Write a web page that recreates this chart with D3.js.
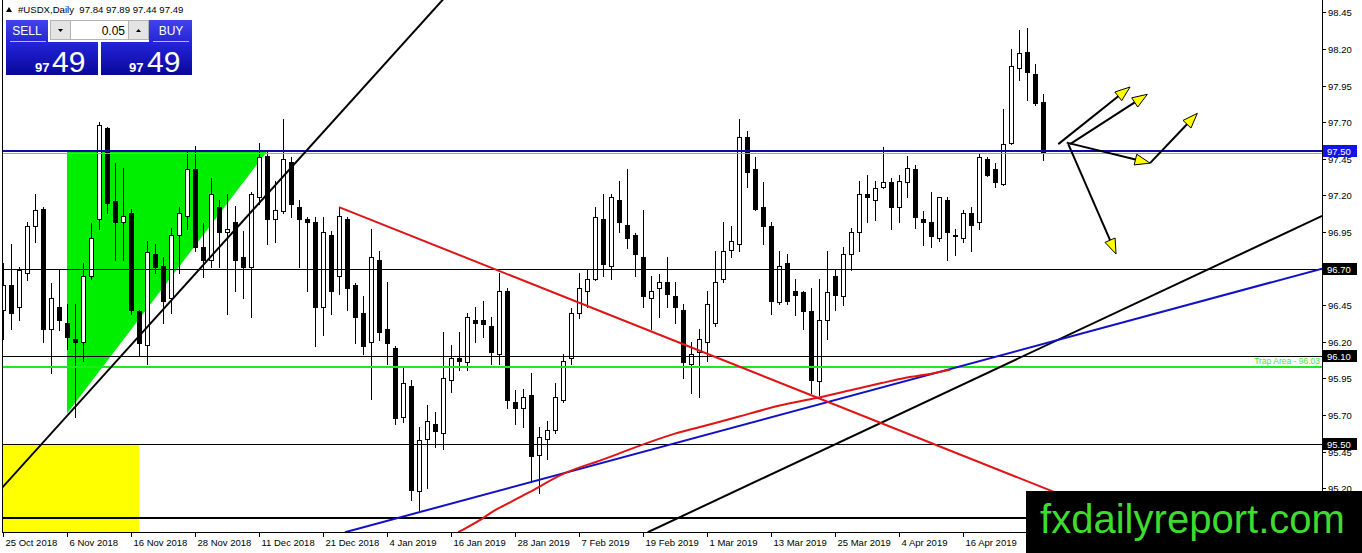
<!DOCTYPE html>
<html>
<head>
<meta charset="utf-8">
<script src="https://cdnjs.cloudflare.com/ajax/libs/d3/7.8.5/d3.min.js"></script>
<style>
body{margin:0;background:#fff;}
svg{display:block;}
text{font-family:"Liberation Sans",Arial,sans-serif;}
</style>
</head>
<body>
<svg id="chart"></svg>
<script>
/* Chart data */
const symbol = '#USDX,Daily'
const lastBar = [97.84, 97.89, 97.44, 97.49]
const lotSize = '0.05'

const openPrices = [
  96.42,96.59,96.44,96.67,96.99,97.11,96.29,96.44,96.33,96.22,
  96.20,96.65,97.04,97.66,97.16,97.02,97.08,96.41,96.18,96.80,
  96.72,96.50,96.93,97.06,97.38,96.85,96.76,97.12,96.95,97.02,
  96.78,96.71,97.19,97.47,97.04,97.09,97.43,97.12,97.04,97.02,
  96.44,96.93,96.65,97.04,96.59,96.40,96.20,96.76,96.29,96.16,
  95.69,95.90,95.18,95.54,95.64,95.58,95.94,96.09,96.06,96.35,
  96.35,96.31,96.12,96.55,95.79,95.75,95.84,95.43,95.54,95.60,
  95.80,96.09,96.40,96.55,96.63,97.04,96.72,97.17,97.00,96.93,
  96.78,96.50,96.57,96.61,96.51,96.42,96.05,96.13,96.20,96.33,
  96.63,96.83,96.87,97.60,97.38,97.12,96.99,96.47,96.74,96.55,
  96.54,96.41,95.93,96.35,96.65,96.51,96.80,96.95,97.21,97.17,
  97.26,97.29,97.12,97.29,97.38,97.04,97.02,96.91,97.17,96.93,
  96.91,97.08,97.02,97.45,97.38,97.28,97.56,98.07,98.18,98.03,
  97.84]
const highPrices = [
  96.74,96.87,96.71,97.02,97.21,97.12,96.60,96.69,96.46,96.46,
  96.74,97.01,97.70,97.67,97.42,97.39,97.11,96.42,96.89,96.87,
  96.78,96.98,97.12,97.51,97.54,97.01,97.32,97.17,97.21,97.13,
  96.96,97.22,97.56,97.51,97.30,97.72,97.46,97.17,97.05,97.05,
  97.05,96.96,97.12,97.05,96.60,96.51,96.97,96.82,96.61,96.17,
  96.03,95.94,95.62,95.77,95.72,96.27,96.18,96.27,96.40,96.44,
  96.48,96.37,96.67,96.57,95.87,95.88,95.99,95.62,95.66,95.92,
  96.12,96.43,96.67,96.70,97.12,97.21,97.21,97.30,97.38,96.94,
  97.10,96.65,96.66,96.78,96.61,96.46,96.20,96.29,96.55,96.82,
  97.02,96.99,97.72,97.64,97.46,97.29,97.02,96.82,96.80,96.63,
  96.55,96.57,96.63,96.82,96.70,96.85,96.98,97.30,97.34,97.30,
  97.53,97.32,97.34,97.47,97.41,97.09,97.22,97.19,97.19,96.97,
  97.10,97.12,97.49,97.46,97.42,97.79,98.20,98.33,98.34,98.10,
  97.89]
const lowPrices = [
  96.22,96.29,96.35,96.62,96.88,96.20,95.99,96.28,96.15,95.69,
  96.07,96.63,96.97,97.08,96.76,96.76,96.39,96.11,96.05,96.67,
  96.33,96.40,96.67,96.97,96.82,96.64,96.71,96.71,96.39,96.55,
  96.50,96.37,97.14,96.87,96.88,97.08,97.05,96.71,96.55,96.17,
  96.25,96.39,96.53,96.42,96.19,96.12,95.81,96.21,96.05,95.64,
  95.65,95.12,95.05,95.20,95.48,95.47,95.86,96.01,96.01,96.20,
  96.23,96.05,96.05,95.75,95.64,95.62,95.24,95.17,95.40,95.58,
  95.79,96.05,96.36,96.44,96.62,96.65,96.63,96.95,96.84,96.65,
  96.44,96.29,96.37,96.44,96.33,95.95,95.85,95.82,96.07,96.31,
  96.61,96.78,96.82,97.26,97.10,96.87,96.39,96.46,96.46,96.38,
  96.29,95.85,95.84,96.22,96.42,96.45,96.69,96.82,97.02,97.03,
  97.25,96.97,97.02,97.19,96.98,96.86,96.85,96.89,96.76,96.79,
  96.88,96.82,96.97,97.33,97.26,97.27,97.55,97.99,97.85,97.82,
  97.44]
const closePrices = [
  96.59,96.40,96.69,96.99,97.10,96.29,96.50,96.35,96.23,96.20,
  96.65,96.91,97.68,97.15,97.02,97.06,96.42,96.19,96.81,96.71,
  96.48,96.93,97.08,97.38,96.85,96.76,97.21,96.95,96.97,96.76,
  96.71,97.21,97.46,97.04,97.10,97.45,97.14,97.04,97.02,96.44,
  96.95,96.55,97.06,96.57,96.37,96.17,96.78,96.27,96.19,95.68,
  95.92,95.19,95.53,95.66,95.59,95.95,96.09,96.07,96.37,96.33,
  96.32,96.13,96.55,95.80,95.75,95.82,95.42,95.55,95.60,95.82,
  96.07,96.40,96.57,96.63,97.05,96.73,97.19,97.02,96.91,96.80,
  96.51,96.55,96.61,96.53,96.44,96.06,96.12,96.22,96.46,96.61,
  96.82,96.89,97.60,97.36,97.11,96.99,96.48,96.72,96.48,96.52,
  96.41,95.94,96.35,96.54,96.52,96.80,96.95,97.21,97.19,97.25,
  97.29,97.12,97.30,97.39,97.05,97.02,96.92,97.19,96.95,96.93,
  97.08,97.00,97.46,97.34,97.29,97.55,98.08,98.17,98.04,97.83,
  97.49]

const dateLabels = ['25 Oct 2018','6 Nov 2018','16 Nov 2018','28 Nov 2018','11 Dec 2018','21 Dec 2018',
  '4 Jan 2019','16 Jan 2019','28 Jan 2019','7 Feb 2019','19 Feb 2019','1 Mar 2019','13 Mar 2019',
  '25 Mar 2019','4 Apr 2019','16 Apr 2019']
const dateIndex = [0,8,16,24,32,40,48,56,64,72,80,88,96,104,112,120]
const priceTicks = [95.20,95.45,95.70,95.95,96.20,96.45,96.70,96.95,97.20,97.45,97.70,97.95,98.20,98.45]

/* Horizontal levels */
const resistLevel = 97.50
const blackLevels = [96.70, 96.10, 95.50]
const baseLevel = 95.00
const trapLevel = 96.03
const trapText = 'Trap Area - 96.03'

/* Trend lines: [bar index, price] */
const blackTrend1 = [[-1, 95.15], [60, 98.84]]
const blackTrend2 = [[80.6, 94.90], [164.9, 97.06]]
const blueTrend = [[42.75, 94.90], [164.9, 96.70]]
const redTrend = [[42, 97.12], [150, 94.77]]
const curveIndex = [56.9, 60.25, 61.25, 65.9, 70, 74.25, 77.1, 80.5, 84.25, 85.9, 92.1, 97.1, 101.25, 105.9, 110, 113, 115, 118.4]
const curvePrice = [94.90, 95.00, 95.05, 95.17, 95.31, 95.38, 95.44, 95.51, 95.58, 95.60, 95.69, 95.77, 95.81, 95.87, 95.92, 95.96, 95.97, 96.01]
const greenTriangle = [[8, 97.50], [33, 97.50], [8, 95.71]]
const yellowBox = [[-1, 95.50], [17, 94.80]]

/* Arrows */
const arrowFrom = [[131.91, 97.55], [133.38, 97.55], [132.96, 97.56], [143.38, 97.42], [133.16, 97.55]]
const arrowTo = [[140.88, 97.94], [143.04, 97.89], [143.38, 97.42], [149.29, 97.76], [139.13, 96.80]]

/* Layout */
const width = 1362, height = 553
const plot = {left: 2, right: 1322, top: 0, bottom: 532}

const xScale = d3.scaleLinear().domain([0, 130]).range([3, 1043])
const yScale = d3.scaleLinear().domain([95.20, 98.45]).range([488.3, 12.3])

const svg = d3.select('#chart').attr('width', width).attr('height', height)
const defs = svg.append('defs')

defs.append('clipPath').attr('id', 'plotClip').append('rect')
    .attr('x', plot.left + 0.5).attr('y', plot.top)
    .attr('width', plot.right - plot.left - 0.5).attr('height', plot.bottom - plot.top)

const addGrad = (id, c1, c2) => {
  const g = defs.append('linearGradient').attr('id', id).attr('x1', 0).attr('y1', 0).attr('x2', 0).attr('y2', 1)
  g.append('stop').attr('offset', '0%').attr('stop-color', c1)
  g.append('stop').attr('offset', '100%').attr('stop-color', c2)
}
addGrad('btnGrad', '#4343ec', '#2626d2')
addGrad('priceGrad', '#2424dc', '#08089a')

const lineGen = d3.line().x(d => xScale(d[0])).y(d => yScale(d[1]))
const crisp = v => Math.round(v) + 0.5

const plotG = svg.append('g').attr('clip-path', 'url(#plotClip)')

/* Background objects */
const drawBackground = () => {
  plotG.append('rect')
      .attr('x', xScale(yellowBox[0][0])).attr('y', yScale(yellowBox[0][1]))
      .attr('width', xScale(yellowBox[1][0]) - xScale(yellowBox[0][0]))
      .attr('height', yScale(yellowBox[1][1]) - yScale(yellowBox[0][1]))
      .attr('fill', '#ffff00')

  plotG.append('path')
      .attr('d', lineGen(greenTriangle) + 'Z')
      .attr('fill', '#00ee00')
}

/* Candles */
const drawCandles = () => {
  const candles = openPrices.map((o, i) => ({i: i, o: o, h: highPrices[i], l: lowPrices[i], c: closePrices[i]}))

  plotG.selectAll('line.wick')
      .data(candles)
      .enter()
      .append('line')
      .attr('class', 'wick')
      .attr('x1', d => crisp(xScale(d.i)))
      .attr('x2', d => crisp(xScale(d.i)))
      .attr('y1', d => Math.round(yScale(d.h)))
      .attr('y2', d => Math.round(yScale(d.l)) + 1)
      .attr('stroke', '#000')
      .attr('stroke-width', 1)

  plotG.selectAll('rect.body')
      .data(candles)
      .enter()
      .append('rect')
      .attr('class', 'body')
      .attr('x', d => Math.round(xScale(d.i)) - 1.5)
      .attr('width', 4)
      .attr('y', d => crisp(yScale(Math.max(d.o, d.c))))
      .attr('height', d => Math.max(Math.round(yScale(Math.min(d.o, d.c))) - Math.round(yScale(Math.max(d.o, d.c))), 1))
      .attr('fill', d => d.c >= d.o ? '#fff' : '#000')
      .attr('stroke', '#000')
      .attr('stroke-width', 1)
}

/* Horizontal levels and trend lines */
const drawLines = () => {
  const hLine = (v, color, w, dy) => {
    const y = w % 2 ? crisp(yScale(v)) : Math.round(yScale(v))
    plotG.append('line')
        .attr('x1', plot.left).attr('x2', plot.right)
        .attr('y1', y + (dy || 0)).attr('y2', y + (dy || 0))
        .attr('stroke', color).attr('stroke-width', w)
  }
  blackLevels.forEach(v => hLine(v, '#000', 1))
  hLine(baseLevel, '#000', 2)
  hLine(trapLevel, '#22e622', 2)
  hLine(resistLevel, '#0c0ca8', 2)
  hLine(resistLevel, '#9a9ae6', 1, 2)

  const trend = (pts, color) => {
    plotG.append('path')
        .attr('d', lineGen(pts))
        .attr('fill', 'none')
        .attr('stroke', color)
        .attr('stroke-width', 2)
  }
  trend(blackTrend1, '#000')
  trend(blackTrend2, '#000')
  trend(blueTrend, '#1010c4')
  trend(redTrend, '#e01414')

  const curvePts = curveIndex.map((v, k) => [v, curvePrice[k]])
  plotG.append('path')
      .attr('d', d3.line().x(d => xScale(d[0])).y(d => yScale(d[1])).curve(d3.curveBasis)(curvePts))
      .attr('fill', 'none')
      .attr('stroke', '#e01414')
      .attr('stroke-width', 2)

  plotG.append('text')
      .attr('x', plot.right - 2)
      .attr('y', Math.round(yScale(trapLevel)) - 3)
      .attr('text-anchor', 'end')
      .style('font-size', '8.5px')
      .attr('fill', '#3ee63e')
      .text(trapText)
}

/* Arrows */
const drawArrows = () => {
  arrowFrom.forEach((p, k) => {
    const x1 = xScale(p[0]), y1 = yScale(p[1])
    const x2 = xScale(arrowTo[k][0]), y2 = yScale(arrowTo[k][1])
    const len = Math.hypot(x2 - x1, y2 - y1)
    const ux = (x2 - x1) / len, uy = (y2 - y1) / len
    const headLen = 15, headW = 5.5
    const bx = x2 - ux * headLen, by = y2 - uy * headLen

    plotG.append('line')
        .attr('x1', x1).attr('y1', y1).attr('x2', bx).attr('y2', by)
        .attr('stroke', '#000').attr('stroke-width', 2)

    plotG.append('polygon')
        .attr('points', [[x2, y2], [bx - uy * headW, by + ux * headW], [bx + uy * headW, by - ux * headW]].map(q => q.join(',')).join(' '))
        .attr('fill', '#ffff00')
        .attr('stroke', '#000')
        .attr('stroke-width', 1)
  })
}

/* Axes */
const drawAxes = () => {
  svg.append('line')
      .attr('x1', plot.left + 0.5).attr('x2', plot.left + 0.5)
      .attr('y1', 0).attr('y2', plot.bottom)
      .attr('stroke', '#000')
  svg.append('line')
      .attr('x1', plot.left).attr('x2', plot.right + 1)
      .attr('y1', plot.bottom + 0.5).attr('y2', plot.bottom + 0.5)
      .attr('stroke', '#000')
  svg.append('line')
      .attr('x1', plot.right + 0.5).attr('x2', plot.right + 0.5)
      .attr('y1', 0).attr('y2', height)
      .attr('stroke', '#000')

  /* price scale */
  const yAxis = svg.append('g')
  priceTicks.forEach(v => {
    const y = crisp(yScale(v))
    yAxis.append('line')
        .attr('x1', plot.right).attr('x2', plot.right + 4)
        .attr('y1', y).attr('y2', y)
        .attr('stroke', '#000')
    yAxis.append('text')
        .attr('x', plot.right + 6).attr('y', y + 3.5)
        .style('font-size', '9.5px')
        .attr('fill', '#000')
        .text(v.toFixed(2))
  })

  const levelLabel = (v, bg) => {
    const y = Math.round(yScale(v))
    yAxis.append('rect')
        .attr('x', plot.right + 1).attr('y', y - 6)
        .attr('width', 34).attr('height', 12)
        .attr('fill', bg)
    yAxis.append('text')
        .attr('x', plot.right + 5).attr('y', y + 4)
        .style('font-size', '9.5px')
        .attr('fill', '#fff')
        .text(v.toFixed(2))
  }
  levelLabel(resistLevel, '#1414e6')
  blackLevels.forEach(v => levelLabel(v, '#000'))

  /* time scale */
  const xAxis = svg.append('g')
  dateIndex.forEach((idx, k) => {
    const x = crisp(xScale(idx))
    xAxis.append('line')
        .attr('x1', x).attr('x2', x)
        .attr('y1', plot.bottom).attr('y2', plot.bottom + 5)
        .attr('stroke', '#000')
    xAxis.append('text')
        .attr('x', x + 2).attr('y', plot.bottom + 14)
        .style('font-size', '9.5px')
        .attr('fill', '#000')
        .text(dateLabels[k])
  })
}

/* Title and trade panel */
const drawHeader = () => {
  svg.append('polygon').attr('points', '6,12 12,12 9,7').attr('fill', '#000')
  svg.append('text')
      .attr('x', 18).attr('y', 13)
      .style('font-size', '9.6px')
      .style('white-space', 'pre')
      .attr('fill', '#000')
      .text(symbol + '  ' + lastBar.map(v => v.toFixed(2)).join(' '))

  const panel = svg.append('g')
  panel.append('rect').attr('x', 6).attr('y', 20).attr('width', 42).attr('height', 22).attr('fill', 'url(#btnGrad)')
  panel.append('rect').attr('x', 149).attr('y', 20).attr('width', 43).attr('height', 22).attr('fill', 'url(#btnGrad)')
  panel.append('rect').attr('x', 6).attr('y', 42).attr('width', 92).attr('height', 33).attr('fill', 'url(#priceGrad)')
  panel.append('rect').attr('x', 101).attr('y', 42).attr('width', 91).attr('height', 33).attr('fill', 'url(#priceGrad)')
  panel.append('line').attr('x1', 10).attr('x2', 46).attr('y1', 41.5).attr('y2', 41.5).attr('stroke', '#b8b8f0')
  panel.append('line').attr('x1', 153).attr('x2', 189).attr('y1', 41.5).attr('y2', 41.5).attr('stroke', '#b8b8f0')

  panel.append('text').attr('x', 27).attr('y', 35).attr('text-anchor', 'middle')
      .style('font-size', '12px').attr('fill', '#fff').text('SELL')
  panel.append('text').attr('x', 171).attr('y', 35).attr('text-anchor', 'middle')
      .style('font-size', '12px').attr('fill', '#fff').text('BUY')

  /* lot spinner */
  panel.append('rect').attr('x', 50.5).attr('y', 20.5).attr('width', 20).attr('height', 19).attr('fill', '#e4e4e4').attr('stroke', '#b4b4b4')
  panel.append('rect').attr('x', 70.5).attr('y', 20.5).attr('width', 58).attr('height', 19).attr('fill', '#fff').attr('stroke', '#b4b4b4')
  panel.append('rect').attr('x', 128.5).attr('y', 20.5).attr('width', 20).attr('height', 19).attr('fill', '#e4e4e4').attr('stroke', '#b4b4b4')
  panel.append('polygon').attr('points', '58,29 63,29 60.5,32').attr('fill', '#000')
  panel.append('polygon').attr('points', '136,32 141,32 138.5,29').attr('fill', '#000')
  panel.append('text').attr('x', 125).attr('y', 35).attr('text-anchor', 'end')
      .style('font-size', '12px').attr('fill', '#000').text(lotSize)

  /* bid / ask */
  const bigPart = lastBar[3].toFixed(2).split('.')
  const priceText = (x1, x2) => {
    panel.append('text').attr('x', x1).attr('y', 71.5)
        .style('font-size', '13px').style('font-weight', 'bold').attr('fill', '#fff').text(bigPart[0])
    panel.append('text').attr('x', x2).attr('y', 72)
        .style('font-size', '30px').attr('fill', '#fff').text(bigPart[1])
  }
  priceText(35, 52)
  priceText(129, 147)
}

/* Watermark */
const drawWatermark = () => {
  svg.append('rect')
      .attr('x', 1026).attr('y', 491)
      .attr('width', width - 1026).attr('height', height - 491)
      .attr('fill', '#000')
  svg.append('text')
      .attr('x', 1040).attr('y', 533)
      .style('font-size', '40px')
      .attr('textLength', 305)
      .attr('lengthAdjust', 'spacingAndGlyphs')
      .attr('fill', '#3ddc2e')
      .text('fxdailyreport.com')
}

drawBackground()
drawCandles()
drawLines()
drawArrows()
drawAxes()
drawHeader()
drawWatermark()
</script>
</body>
</html>
